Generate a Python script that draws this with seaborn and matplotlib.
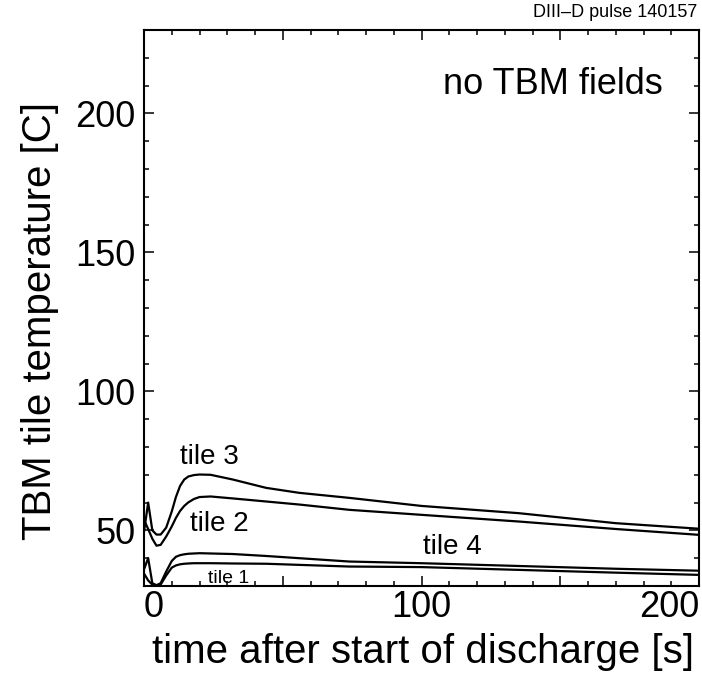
import numpy as np
import pandas as pd
import matplotlib
matplotlib.use("Agg")
import matplotlib.pyplot as plt
from matplotlib.ticker import MultipleLocator, FixedLocator, FixedFormatter
import seaborn as sns

# ---- data ----
time_s = [0, 1.5, 3, 4.5, 6, 8, 10, 11.5, 13, 14.5, 16, 18, 20, 24, 32, 44, 56, 74, 100, 135, 170, 200]
tile3 = [49.5, 60.0, 50.0, 48.5, 48.5, 51.0, 56.8, 62.0, 66.0, 68.3, 69.4, 69.9, 70.1, 70.0, 68.3, 65.3, 63.5, 61.7, 58.8, 56.2, 52.6, 50.6]
tile2 = [53.8, 50.5, 47.0, 44.5, 44.8, 47.8, 51.4, 54.5, 57.0, 58.8, 60.1, 61.3, 62.0, 62.2, 61.5, 60.4, 59.3, 57.4, 55.6, 53.2, 50.5, 48.4]
tile4 = [36.0, 40.0, 31.0, 30.3, 31.0, 35.2, 39.0, 40.5, 41.1, 41.4, 41.6, 41.7, 41.8, 41.7, 41.5, 40.8, 40.0, 38.8, 38.2, 37.2, 36.2, 35.5]
tile1 = [34.5, 32.0, 30.5, 30.2, 30.5, 33.8, 36.6, 37.4, 37.8, 38.0, 38.1, 38.2, 38.2, 38.2, 38.1, 38.0, 37.6, 37.0, 36.8, 35.8, 34.8, 34.0]
tile_names = ["tile 3", "tile 2", "tile 4", "tile 1"]
x_ticks = [0, 50, 100, 150, 200]
x_ticklabels = ["0", "", "100", "", "200"]
y_ticks = [50, 100, 150, 200]
y_ticklabels = ["50", "100", "150", "200"]

sns.set_theme(style="ticks")
plt.rcParams["font.family"] = ["Liberation Sans", "DejaVu Sans"]
plt.rcParams["text.color"] = "black"
plt.rcParams["axes.labelcolor"] = "black"
plt.rcParams["xtick.color"] = "black"
plt.rcParams["ytick.color"] = "black"
plt.rcParams["xtick.labelcolor"] = "black"
plt.rcParams["ytick.labelcolor"] = "black"

df = pd.concat([
    pd.DataFrame({"t": time_s, "T": vals, "tile": name})
    for name, vals in zip(tile_names, [tile3, tile2, tile4, tile1])
], ignore_index=True)

fig = plt.figure(figsize=(7.02, 6.73), dpi=100)
W, H = 702, 673
ax = fig.add_axes([144 / W, 1 - 586 / H, (699 - 144) / W, (586 - 30) / H])

sns.lineplot(data=df, x="t", y="T", hue="tile", units="tile", estimator=None,
             sort=False, palette=["black"] * 4, linewidth=1.6, legend=False, ax=ax)

ax.set_xlim(0, 200)
ax.set_ylim(30, 230)
ax.xaxis.set_major_locator(FixedLocator(x_ticks))
ax.xaxis.set_major_formatter(FixedFormatter(x_ticklabels))
ax.xaxis.set_minor_locator(MultipleLocator(10))
ax.yaxis.set_major_locator(FixedLocator(y_ticks))
ax.yaxis.set_major_formatter(FixedFormatter(y_ticklabels))
ax.yaxis.set_minor_locator(MultipleLocator(10))

ax.tick_params(which="both", direction="in", top=True, right=True, colors="black",
               labelcolor="black")
ax.tick_params(which="major", length=7.2, width=1.1)
ax.tick_params(which="minor", length=3.6, width=1.1)
ax.tick_params(axis="x", which="major", labelsize=26, pad=3)
ax.tick_params(axis="y", which="major", labelsize=26, pad=6)
for sp in ax.spines.values():
    sp.set_linewidth(1.5)
    sp.set_color("black")
    sp.set_visible(True)

xl = ax.get_xticklabels()
xl[0].set_ha("left")
xl[-1].set_ha("right")

ax.set_xlabel("")
ax.set_ylabel("")
fig.text(423 / W, 1 - 663 / H, "time after start of discharge [s]", fontsize=29,
         ha="center", va="baseline", color="black")
fig.text(40 / W, 1 - 321 / H, "TBM tile temperature [C]", fontsize=29,
         rotation=90, ha="center", va="center", color="black")
fig.text(697 / W, 1 - 17 / H, "DIII\u2013D pulse 140157", fontsize=13,
         ha="right", va="baseline", color="black")

ax.text(107.6, 206.9, "no TBM fields", fontsize=26, ha="left", va="baseline", color="black")
ax.text(13.0, 73.9, "tile 3", fontsize=20, ha="left", va="baseline", color="black")
ax.text(16.6, 49.9, "tile 2", fontsize=20, ha="left", va="baseline", color="black")
ax.text(100.4, 41.55, "tile 4", fontsize=20, ha="left", va="baseline", color="black")
ax.text(23.1, 31.2, "tile 1", fontsize=14, ha="left", va="baseline", color="black")

fig.savefig("out.png", dpi=100, facecolor="white")
